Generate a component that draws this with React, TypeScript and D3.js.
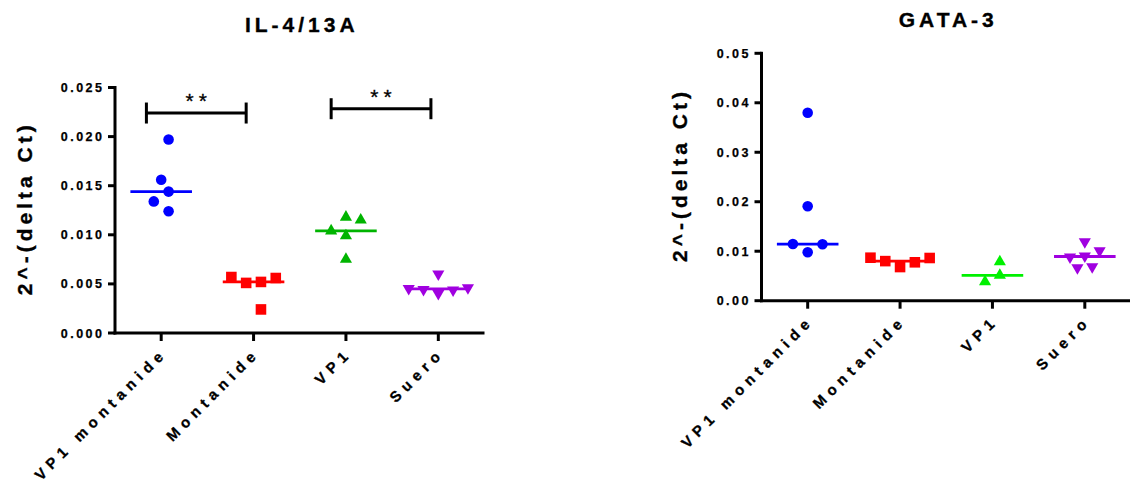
import React from "react";
import * as d3 from "d3";

const groups = ["VP1 montanide", "Montanide", "VP1", "Suero"];

// IL-4/13A, 2^-(delta Ct) per animal
const il4Vp1Montanide = [0.0144, 0.0156, 0.0134, 0.0124, 0.0197];
const il4Montanide = [0.0052, 0.0051, 0.0056, 0.0057, 0.0024];
const il4Vp1 = [0.0099, 0.0104, 0.0118, 0.0115, 0.0075];
const il4Suero = [0.00403, 0.00444, 0.00437, 0.00454, 0.0046, 0.006];

// GATA-3, 2^-(delta Ct) per animal
const gataVp1Montanide = [0.0098, 0.01145, 0.0114, 0.0191, 0.038];
const gataMontanide = [0.0068, 0.008, 0.00776, 0.00869, 0.00863];
const gataVp1 = [0.00513, 0.00384, 0.00788];
const gataSuero = [0.00903, 0.00883, 0.0101, 0.01192, 0.00687, 0.00667];

const il4Ticks = [0, 0.005, 0.01, 0.015, 0.02, 0.025];
const gataTicks = [0, 0.01, 0.02, 0.03, 0.04, 0.05];

// significance bars (IL-4/13A only)
const il4Brackets = [
  { from: "VP1 montanide", to: "Montanide", y: 0.0224, label: "**" },
  { from: "VP1", to: "Suero", y: 0.02284, label: "**" },
];

const FONT = "'Liberation Sans', Arial, Helvetica, sans-serif";
const shapes = [d3.symbolCircle, d3.symbolSquare, d3.symbolTriangle, d3.symbolTriangle];
const shapeSize = [88, 112, 64, 64];

type Cfg = {
  x0: number;
  yTop: number;
  yBot: number;
  yMax: number;
  decimals: number;
  title: string;
  titleY: number;
  labelX: number;
  colors: string[];
};

// simple beeswarm: each point takes the nearest free slot, then the swarm is recentred
function swarm(values: number[], y: (v: number) => number, h: number, dist: number) {
  const cands = [0];
  for (let k = 1; k < 12; k++) cands.push(-k * h, k * h);
  const placed: { dx: number; py: number }[] = [];
  values.forEach((v) => {
    const py = y(v);
    const c = cands.find((c) => placed.every((p) => Math.hypot(p.dx - c, p.py - py) >= dist));
    placed.push({ dx: c ?? 0, py });
  });
  const lo = d3.min(placed, (p) => p.dx) ?? 0;
  const hi = d3.max(placed, (p) => p.dx) ?? 0;
  const shift = (lo + hi) / 2;
  return placed.map((p) => ({ dx: p.dx - shift, py: p.py }));
}

// bold text a touch heavier, like the exported GraphPad figure
const heavy = { fontFamily: FONT, fontWeight: "bold" as const, stroke: "#000", strokeWidth: 0.35 };

const DotPlot = ({
  cfg,
  series,
  ticks,
  brackets = [],
}: {
  cfg: Cfg;
  series: number[][];
  ticks: number[];
  brackets?: { from: string; to: string; y: number; label: string }[];
}) => {
  const x = d3.scaleBand().domain(groups).range([cfg.x0, cfg.x0 + 369.5]);
  const y = d3.scaleLinear().domain([0, cfg.yMax]).range([cfg.yBot, cfg.yTop]);
  const bw = x.bandwidth();
  const cx = (g: string) => (x(g) ?? 0) + bw / 2;
  const xEnd = x.range()[1];

  return (
    <g>
      <text
        x={(cfg.x0 + xEnd) / 2}
        y={cfg.titleY}
        dx={2}
        textAnchor="middle"
        fontSize={21}
        letterSpacing={4}
        {...heavy}
      >
        {cfg.title}
      </text>

      <text
        transform={`translate(${cfg.labelX},${(cfg.yTop + cfg.yBot) / 2}) rotate(-90)`}
        dx={2}
        dy={7.5}
        textAnchor="middle"
        fontSize={21}
        letterSpacing={4}
        {...heavy}
      >
        2^-(delta Ct)
      </text>

      {/* y axis */}
      <line x1={cfg.x0} x2={cfg.x0} y1={cfg.yTop - 1.5} y2={cfg.yBot + 1.5} stroke="#000" strokeWidth={3} />
      {ticks.map((t) => (
        <g key={t}>
          <line x1={cfg.x0 - 7} x2={cfg.x0} y1={y(t)} y2={y(t)} stroke="#000" strokeWidth={3} />
          <text
            x={cfg.x0 - 13}
            y={y(t)}
            dx={2.5}
            dy={4.5}
            textAnchor="end"
            fontSize={12.5}
            letterSpacing={2.5}
            {...heavy}
            strokeWidth={0.25}
          >
            {t.toFixed(cfg.decimals)}
          </text>
        </g>
      ))}

      {/* x axis */}
      <line x1={cfg.x0 - 1.5} x2={xEnd} y1={cfg.yBot} y2={cfg.yBot} stroke="#000" strokeWidth={3} />
      {groups.map((g) => (
        <g key={g}>
          <line x1={cx(g)} x2={cx(g)} y1={cfg.yBot} y2={cfg.yBot + 8} stroke="#000" strokeWidth={3} />
          <text
            transform={`translate(${cx(g) + 3},${cfg.yBot + 25}) rotate(-45)`}
            dx={5.5}
            textAnchor="end"
            fontSize={15}
            letterSpacing={5.5}
            {...heavy}
            strokeWidth={0.3}
          >
            {g}
          </text>
        </g>
      ))}

      {/* points + median */}
      {series.map((vals, i) => {
        const g = groups[i];
        const pts = swarm(vals, y, 7.4, 12.5);
        const sym = d3.symbol().type(shapes[i]).size(shapeSize[i])() ?? "";
        const med = d3.median(vals) ?? 0;
        return (
          <g key={g} fill={cfg.colors[i]}>
            {pts.map((p, j) => (
              <path
                key={j}
                d={sym}
                transform={`translate(${cx(g) + p.dx},${p.py})${i === 3 ? " rotate(180)" : ""}`}
              />
            ))}
            <line
              x1={cx(g) - bw / 3}
              x2={cx(g) + bw / 3}
              y1={y(med)}
              y2={y(med)}
              stroke={cfg.colors[i]}
              strokeWidth={2.8}
            />
          </g>
        );
      })}

      {brackets.map((b) => {
        const xa = (x(b.from) ?? 0) + bw * 0.34;
        const xb = (x(b.to) ?? 0) + bw * 0.42;
        const yy = y(b.y);
        return (
          <g key={b.from} stroke="#000" strokeWidth={3}>
            <line x1={xa} x2={xb} y1={yy} y2={yy} />
            <line x1={xa} x2={xa} y1={yy - 10.5} y2={yy + 10.5} />
            <line x1={xb} x2={xb} y1={yy - 10.5} y2={yy + 10.5} />
            <text
              x={(xa + xb) / 2}
              y={yy - 5}
              dx={2.5}
              stroke="#000"
              strokeWidth={0.3}
              textAnchor="middle"
              fontFamily={FONT}
              fontSize={21}
              letterSpacing={5}
            >
              {b.label}
            </text>
          </g>
        );
      })}
    </g>
  );
};

const il4Cfg: Cfg = {
  x0: 115,
  yTop: 87.5,
  yBot: 333,
  yMax: 0.025,
  decimals: 3,
  title: "IL-4/13A",
  titleY: 31.5,
  labelX: 24,
  colors: ["#0000FF", "#FF0000", "#00B400", "#A000E0"],
};

const gataCfg: Cfg = {
  x0: 761.5,
  yTop: 53.3,
  yBot: 300.7,
  yMax: 0.05,
  decimals: 2,
  title: "GATA-3",
  titleY: 26.5,
  labelX: 679,
  colors: ["#0000FF", "#FF0000", "#00F000", "#A000E0"],
};

export default function App() {
  return (
    <div style={{ position: "absolute", left: 0, top: 0 }}>
      <svg width={1130} height={487} style={{ display: "block", background: "#fff" }}>
        <DotPlot
          cfg={il4Cfg}
          series={[il4Vp1Montanide, il4Montanide, il4Vp1, il4Suero]}
          ticks={il4Ticks}
          brackets={il4Brackets}
        />
        <DotPlot
          cfg={gataCfg}
          series={[gataVp1Montanide, gataMontanide, gataVp1, gataSuero]}
          ticks={gataTicks}
        />
      </svg>
    </div>
  );
}
